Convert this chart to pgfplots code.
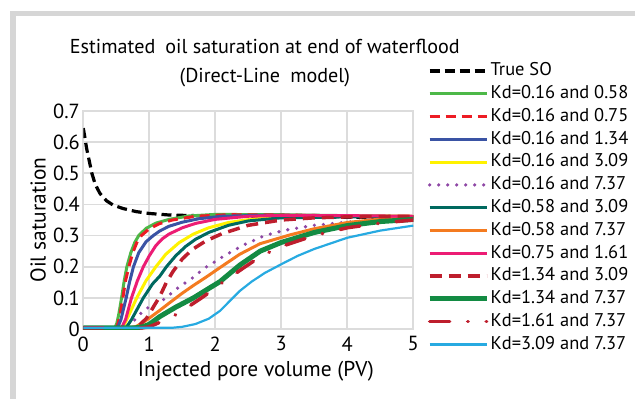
\documentclass[border=0pt]{standalone}
\usepackage{fontspec}
\setmainfont{PT Sans}
\usepackage{pgfplots}
\pgfplotsset{compat=1.18}
\definecolor{cgreenA}{HTML}{4DB848}
\definecolor{credA}{HTML}{ED1C24}
\definecolor{cblue}{HTML}{3A53A4}
\definecolor{cyellow}{HTML}{FFF200}
\definecolor{cpurple}{HTML}{8E47A5}
\definecolor{cteal}{HTML}{00695F}
\definecolor{corange}{HTML}{F47B20}
\definecolor{cpink}{HTML}{EC1C74}
\definecolor{cdred}{HTML}{BE1E2D}
\definecolor{cgreenB}{HTML}{138B43}
\definecolor{clblue}{HTML}{27AAE1}
\definecolor{cgrid}{HTML}{DCDCDC}
\definecolor{cframe}{HTML}{D6D6D6}
\begin{document}
\begin{tikzpicture}
\fill[cframe] (-73.3bp,318bp) rectangle (551.7bp,313bp);
\fill[cframe] (-73.3bp,318bp) rectangle (-67.3bp,-70bp);
\begin{axis}[
  scale only axis, width=330bp, height=218bp,
  xmin=0, xmax=5, ymin=0, ymax=0.7,
  xtick={0,1,2,3,4,5}, ytick={0,0.1,0.2,0.3,0.4,0.5,0.6,0.7},
  /pgf/number format/assume math mode=true,
  yticklabel style={/pgf/number format/fixed, /pgf/number format/precision=1},
  tick style={draw=none},
  ticklabel style={font=\fontsize{20.5}{22}\selectfont},
  xticklabel style={yshift=-4bp},
  grid=major, major grid style={cgrid, line width=1.8bp},
  axis line style={cgrid, line width=1.8bp},
  xlabel={Injected pore volume (PV)}, ylabel={Oil saturation},
  label style={font=\fontsize{21.5}{24}\selectfont},
  xlabel style={at={(axis description cs:0.523,-0.195)}, anchor=center},
  ylabel style={at={(axis description cs:-0.137,0.5)}, anchor=center},
  title={Estimated\enspace oil saturation at end of waterflood\\(Direct-Line\enspace model)},
  title style={font=\fontsize{20.2}{29}\selectfont, align=center, at={(axis description cs:0.55,1)}, anchor=base, yshift=23bp},
  legend cell align=left,
  legend style={draw=none, fill=none, at={(axis description cs:1.0415,1.2317)}, anchor=north west,
    font=\fontsize{18.5}{20}\selectfont, inner sep=0pt, row sep=2.3bp,
    nodes={inner sep=1.5bp, text height=13.5bp, text depth=4bp}},
  legend image code/.code={\draw[#1] (0bp,0bp) -- (57bp,0bp);},
  every axis plot/.append style={line join=round},
]
\addplot[black, line width=3.2bp, dash pattern=on 10bp off 5bp] coordinates {
(0,0.645) (0.02,0.62) (0.05,0.58) (0.09,0.54) (0.13,0.50) (0.18,0.465) (0.25,0.436) (0.35,0.412) (0.45,0.398) (0.6,0.387) (0.8,0.377) (1.0,0.371) (1.3,0.366) (1.7,0.364) (2.5,0.362) (3.5,0.36) (5,0.357)};
\addlegendentry{True SO}
\addplot[cgreenA, line width=3bp] coordinates {
(0,0.004) (0.48,0.004) (0.51,0.02) (0.54,0.05) (0.58,0.1) (0.62,0.155) (0.66,0.2) (0.72,0.245) (0.78,0.278) (0.84,0.3) (0.95,0.323) (1.1,0.34) (1.3,0.352) (1.6,0.363) (2,0.368) (3,0.367) (4,0.364) (5,0.361)};
\addlegendentry{Kd=0.16 and 0.58}
\addplot[credA, line width=3bp, dash pattern=on 10bp off 6bp] coordinates {
(0,0.004) (0.5,0.004) (0.53,0.02) (0.56,0.05) (0.6,0.1) (0.64,0.155) (0.69,0.2) (0.75,0.245) (0.81,0.277) (0.88,0.3) (1.0,0.322) (1.15,0.338) (1.35,0.35) (1.7,0.362) (2.2,0.367) (3,0.366) (4,0.363) (5,0.36)};
\addlegendentry{Kd=0.16 and 0.75}
\addplot[cblue, line width=3bp] coordinates {
(0,0.004) (0.52,0.004) (0.57,0.03) (0.65,0.1) (0.7,0.15) (0.76,0.2) (0.84,0.245) (0.95,0.28) (1.06,0.3) (1.16,0.315) (1.3,0.33) (1.5,0.343) (1.75,0.354) (2.1,0.362) (2.7,0.365) (3.5,0.364) (5,0.361)};
\addlegendentry{Kd=0.16 and 1.34}
\addplot[cyellow, line width=3bp] coordinates {
(0,0.004) (0.6,0.004) (0.68,0.04) (0.81,0.1) (0.95,0.155) (1.1,0.2) (1.25,0.24) (1.45,0.277) (1.67,0.305) (1.9,0.325) (2.2,0.342) (2.6,0.354) (3,0.36) (4,0.363) (5,0.362)};
\addlegendentry{Kd=0.16 and 3.09}
\addplot[cpurple, line width=3.6bp, line cap=round, dash pattern=on 0bp off 9bp] coordinates {
(0,0.004) (0.62,0.004) (0.68,0.013) (0.81,0.034) (0.91,0.06) (1.06,0.078) (1.24,0.097) (1.36,0.12) (1.49,0.141) (1.62,0.158) (1.74,0.179) (1.87,0.2) (2.01,0.218) (2.15,0.237) (2.45,0.272) (2.75,0.3) (3.05,0.317) (3.5,0.333) (4,0.343) (4.5,0.35) (5,0.355)};
\addlegendentry{Kd=0.16 and 7.37}
\addplot[cteal, line width=3bp] coordinates {
(0,0.004) (0.65,0.004) (0.73,0.03) (0.82,0.065) (0.91,0.1) (1.05,0.145) (1.16,0.17) (1.26,0.2) (1.4,0.235) (1.55,0.265) (1.7,0.288) (1.9,0.31) (2.2,0.333) (2.5,0.347) (3,0.357) (4,0.36) (5,0.36)};
\addlegendentry{Kd=0.58 and 3.09}
\addplot[corange, line width=3bp] coordinates {
(0,0.004) (0.7,0.004) (0.8,0.008) (0.9,0.02) (1.0,0.035) (1.16,0.06) (1.3,0.083) (1.5,0.115) (1.67,0.14) (1.85,0.165) (2.07,0.197) (2.37,0.24) (2.68,0.274) (3.13,0.302) (3.5,0.322) (4,0.342) (4.5,0.353) (5,0.36)};
\addlegendentry{Kd=0.58 and 7.37}
\addplot[cpink, line width=3bp] coordinates {
(0,0.004) (0.58,0.004) (0.64,0.03) (0.73,0.1) (0.82,0.155) (0.91,0.2) (1.0,0.235) (1.1,0.268) (1.2,0.29) (1.3,0.305) (1.5,0.325) (1.7,0.339) (2.0,0.352) (2.5,0.362) (3,0.365) (4,0.364) (5,0.362)};
\addlegendentry{Kd=0.75 and 1.61}
\addplot[cdred, line width=3.5bp, dash pattern=on 12bp off 7bp] coordinates {
(0,0.004) (0.75,0.004) (0.85,0.012) (0.96,0.035) (1.06,0.07) (1.16,0.105) (1.26,0.15) (1.36,0.185) (1.5,0.225) (1.65,0.255) (1.85,0.282) (2.1,0.306) (2.5,0.333) (3,0.35) (3.5,0.357) (4,0.36) (5,0.362)};
\addlegendentry{Kd=1.34 and 3.09}
\addplot[cgreenB, line width=5bp] coordinates {
(0,0.004) (0.8,0.004) (0.9,0.007) (1.0,0.015) (1.16,0.04) (1.4,0.07) (1.67,0.1) (1.9,0.13) (2.07,0.152) (2.37,0.205) (2.68,0.25) (3.0,0.278) (3.5,0.31) (4,0.332) (4.5,0.345) (5,0.352)};
\addlegendentry{Kd=1.34 and 7.37}
\addplot[cdred, line width=3.5bp, line cap=round, dash pattern=on 20bp off 18bp on 0.5bp off 18bp] coordinates {
(0,0.004) (0.9,0.004) (1.0,0.007) (1.2,0.025) (1.44,0.05) (1.82,0.104) (2.1,0.148) (2.42,0.195) (2.7,0.235) (3.0,0.265) (3.5,0.3) (4,0.325) (4.5,0.34) (5,0.35)};
\addlegendentry{Kd=1.61 and 7.37}
\addplot[clblue, line width=2.2bp] coordinates {
(0,0.004) (1.35,0.004) (1.5,0.007) (1.7,0.016) (1.9,0.033) (2.07,0.058) (2.22,0.09) (2.37,0.122) (2.55,0.152) (2.75,0.18) (3.0,0.208) (3.25,0.235) (3.5,0.257) (4,0.293) (4.5,0.316) (5,0.332)};
\addlegendentry{Kd=3.09 and 7.37}
\end{axis}
\pgfresetboundingbox
\path[use as bounding box] (-83.3bp,-70bp) rectangle (551.7bp,329bp);
\end{tikzpicture}
\end{document}
